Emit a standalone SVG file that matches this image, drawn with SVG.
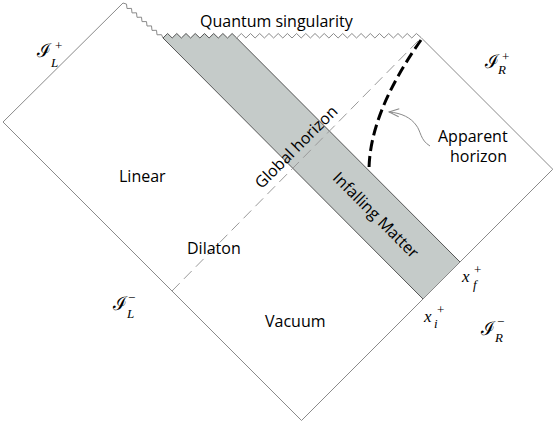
<svg xmlns="http://www.w3.org/2000/svg" width="553" height="437" viewBox="0 0 553 437">
<defs>
<style>
.t{font-family:"Open Sans","Liberation Sans",sans-serif;font-size:16px;fill:#000}
.edge{stroke:#8a8a8a;stroke-width:1;fill:none}
.cal{font-family:"DejaVu Serif",serif;font-size:19px;fill:#000}
.mi{font-family:"Liberation Serif",serif;font-style:italic;font-size:17px;fill:#000}
.sub{font-family:"Liberation Serif",serif;font-style:italic;font-size:13px;fill:#000}
.sup{font-family:"Liberation Serif",serif;font-size:13px;fill:#000}
</style>
<marker id="ah" viewBox="0 0 12 10" refX="11" refY="5" markerWidth="12" markerHeight="10" markerUnits="userSpaceOnUse" orient="auto">
<path d="M1,1 L11,5 L1,9" fill="none" stroke="#8a8a8a" stroke-width="1"/>
</marker>
</defs>
<rect width="553" height="437" fill="#fff"/>
<g id="band">
<polygon fill="#c5cbc9" points="163,38 167.6,33.5 172.2,38 176.8,33.5 181.4,38 186,33.5 190.6,38 195.2,33.5 199.9,38 204.5,33.5 209.1,38 213.7,33.5 218.3,38 222.9,33.5 227.5,38 232.1,33.5 236.7,38 460,262 423,299"/>
<line x1="163" y1="38" x2="423" y2="299" stroke="#555" stroke-width="1"/>
<line x1="236.7" y1="38" x2="460" y2="262" stroke="#555" stroke-width="1"/>
</g>
<g id="boundary">
<line class="edge" x1="3" y1="122" x2="123" y2="3"/>
<line class="edge" x1="3" y1="122" x2="301.5" y2="420.5"/>
<line class="edge" x1="301.5" y1="420.5" x2="552.75" y2="169.25"/>
<line class="edge" x1="421" y1="37.5" x2="552.75" y2="169.25"/>
<polyline class="edge" points="123,3 126.5,4.1 127,8.5 131.5,8.4 132,12.9 136.5,12.8 137,17.3 141.5,17.2 142,21.6 146.5,21.6 147,26 151.5,25.9 152,30.4 156.5,30.3 157,34.8 161.5,34.7 163,38"/>
<polyline fill="none" stroke="#555" stroke-width="1" points="163,38 167.6,33.5 172.2,38 176.8,33.5 181.4,38 186,33.5 190.6,38 195.2,33.5 199.9,38 204.5,33.5 209.1,38 213.7,33.5 218.3,38 222.9,33.5 227.5,38 232.1,33.5 236.7,38"/>
<polyline class="edge" points="236.7,38 241.3,33.5 245.9,38 250.5,33.5 255.1,38 259.7,33.5 264.4,38 269,33.5 273.6,38 278.2,33.5 282.8,38 287.4,33.5 292,38 296.6,33.5 301.2,38 305.8,33.5 310.4,38 315,33.5 319.6,38 324.2,33.5 328.9,38 333.5,33.5 338.1,38 342.7,33.5 347.3,38 351.9,33.5 356.5,38 361.1,33.5 365.7,38 370.3,33.5 374.9,38 379.5,33.5 384.1,38 388.7,33.5 393.4,38 398,33.5 402.6,38 407.2,33.5 411.8,38 416.4,33.5 421,37.5"/>
</g>
<g id="connectors">
<line id="global-horizon" x1="172" y1="291" x2="421" y2="38" stroke="#9a9a9a" stroke-width="1" stroke-dasharray="11 6"/>
<path id="apparent-horizon" d="M421,40 C400,70 369,120 369,171" fill="none" stroke="#000" stroke-width="3" stroke-dasharray="11 5"/>
<path id="pointer" d="M430,146 C420,140 421,131 416,125 C411,118 402,113 389,112" fill="none" stroke="#8a8a8a" stroke-width="1" marker-end="url(#ah)"/>
</g>
<g id="labels">
<text class="t" x="200" y="27" font-size="17">Quantum singularity</text>
<text class="t" x="438" y="142">Apparent</text>
<text class="t" x="450" y="162">horizon</text>
<text class="t" x="119" y="182">Linear</text>
<text class="t" x="187" y="254">Dilaton</text>
<text class="t" x="265" y="327">Vacuum</text>
<text class="t" text-anchor="middle" transform="translate(300,151) rotate(-45)" font-size="16.5">Global horizon</text>
<text class="t" text-anchor="middle" transform="translate(372,219) rotate(45)">Infalling Matter</text>
</g>
<g id="scri-L-plus">
<text class="cal" x="37" y="57">ℐ</text><text class="sub" x="51" y="67">L</text><text class="sup" x="55" y="50">+</text>
</g>
<g id="scri-R-plus">
<text class="cal" x="485" y="68">ℐ</text><text class="sub" x="498" y="74">R</text><text class="sup" x="502" y="61">+</text>
</g>
<g id="scri-L-minus">
<text class="cal" x="113" y="310">ℐ</text><text class="sub" x="127" y="318">L</text><text class="sup" x="128" y="302">−</text>
</g>
<g id="scri-R-minus">
<text class="cal" x="481" y="335">ℐ</text><text class="sub" x="495" y="342">R</text><text class="sup" x="497" y="326">−</text>
</g>
<g id="xf">
<text class="mi" x="462" y="282">x</text><text class="sub" x="473" y="289">f</text><text class="sup" x="474" y="274">+</text>
</g>
<g id="xi">
<text class="mi" x="424" y="322">x</text><text class="sub" x="434" y="328">i</text><text class="sup" x="437" y="314">+</text>
</g>
</svg>
